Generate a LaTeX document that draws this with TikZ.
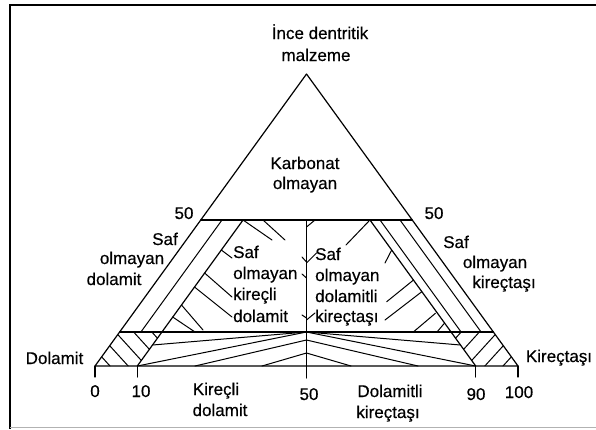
\documentclass[tikz,border=0pt]{standalone}
\usepackage{fontspec}
\setmainfont{Liberation Sans}[FakeBold=0.4]
\usepackage{tikz}
\usetikzlibrary{positioning}

\begin{document}
\begin{tikzpicture}[x=1pt, y=-1pt,
    edge/.style={line width=1.2pt, line cap=round, line join=round},
    hatch/.style={line width=1pt, line cap=round},
    lbl/.style={font=\fontsize{17}{21}\selectfont, inner sep=0pt, anchor=base}
]
\useasboundingbox (0,0) rectangle (596,429);
% frame
\draw[line width=1.4pt] (596,5) -- (10,5) -- (10,429);
\draw[gray!60, line width=0.8pt] (10,427) -- (596,427);

% corners and limits
\coordinate (dol) at (95,366);
\coordinate (kir) at (518,366);
\coordinate (apex) at (306.5,74);
\coordinate (l50) at (200.75,220);
\coordinate (r50) at (412.25,220);
\coordinate (lin) at (119.6,332);
\coordinate (rin) at (493.4,332);
\coordinate (t10) at (137.3,366);
\coordinate (t90) at (475.7,366);
\coordinate (b10in) at (161.9,332);
\coordinate (b10top) at (243.05,220);
\coordinate (b90in) at (451.1,332);
\coordinate (b90top) at (369.95,220);
\coordinate (mtop) at (306.5,220);
\coordinate (mid) at (306.5,332);
\coordinate (mbase) at (306.5,366);

% strips along the sides
\draw[hatch] (222,220) -- (140.9,332);
\draw[hatch] (380,220) -- (461.1,332);
\draw[hatch] (400,220) -- (481.1,332);

% Dolamit and Kirectasi corners
\begin{scope}
\clip (dol) -- (t10) -- (b10in) -- (lin) -- cycle;
\foreach \c in {245,225,205,185,165}
  \draw[hatch] (80,\c+88) -- (180,\c+198);
\end{scope}
\begin{scope}
\clip (kir) -- (t90) -- (b90in) -- (rin) -- cycle;
\foreach \c in {245,225,205,185,165}
  \draw[hatch] (533,\c+88) -- (433,\c+198);
\end{scope}

% fans in the lower band
\draw[hatch] (t10) -- (mid);
\draw[hatch] (152.5,345) -- (mid);
\draw[hatch] (195,366) -- (306.5,340);
\draw[hatch] (262,366) -- (306.5,353);
\draw[hatch] (t90) -- (mid);
\draw[hatch] (460.5,345) -- (mid);
\draw[hatch] (418,366) -- (306.5,340);
\draw[hatch] (351,366) -- (306.5,353);

% impure calcareous dolomite
\draw[hatch] (b10top) -- (272,240);
\draw[hatch] (263,220) -- (285,240);
\draw[hatch] (221.3,250) -- (232,258);
\draw[hatch] (204.6,273) -- (232,297);
\draw[hatch] (194.5,287) -- (232,317);
\draw[hatch] (181.5,305) -- (203,330);
\draw[hatch] (172.7,317) -- (195,332);
\draw[hatch] (302,257) -- (306.5,262);
\draw[hatch] (302,274) -- (306.5,278);
\draw[hatch] (302,315) -- (306.5,318);

% impure dolomitic limestone
\draw[hatch] (b90top) -- (346,245);
\draw[hatch] (306.5,227) -- (315,220);
\draw[hatch] (306.5,263) -- (316.5,253);
\draw[hatch] (391.7,250) -- (385,263);
\draw[hatch] (413.5,280) -- (386.7,301.7);
\draw[hatch] (421.8,291.7) -- (385,320);
\draw[hatch] (435.4,313.3) -- (413.3,332);
\draw[hatch] (444.6,323) -- (437,332);
\draw[hatch] (306.5,320) -- (315,313);

% main lines
\draw[edge] (dol) -- (apex) -- (kir) -- cycle;
\draw[edge] (l50) -- (r50);
\draw[edge] (lin) -- (rin);
\draw[edge] (t10) -- (b10top);
\draw[edge] (t90) -- (b90top);
\draw[edge] (mtop) -- (306.5,378);
\draw[edge] (dol) -- (95,377);
\draw[edge] (t10) -- (137.3,377);
\draw[edge] (t90) -- (475.7,377);
\draw[edge] (kir) -- (518,377);

% labels
\node[lbl] (ince) at (320,39) {İnce dentritik};
\node[lbl] (malz) at (316,61) {malzeme};
\node[lbl] (karb) at (305,169) {Karbonat};
\node[lbl] (karbb) at (305,189) {olmayan};
\node[lbl] (n50l) at (184,219) {50};
\node[lbl] (n50r) at (434,219) {50};

\node[lbl] (lsaf) at (165,245) {Saf};
\node[lbl] (lolm) at (132,264) {olmayan};
\node[lbl] (ldol) at (114,285) {dolamit};

\node[lbl] (rsaf) at (456,248) {Saf};
\node[lbl] (rolm) at (495,268) {olmayan};
\node[lbl] (rkir) at (504,288) {kireçtaşı};

\node[lbl, anchor=base west] (mlsaf) at (233,258) {Saf};
\node[lbl, anchor=base west] (mlolm) at (233,279) {olmayan};
\node[lbl, anchor=base west] (mlkir) at (233,300) {kireçli};
\node[lbl, anchor=base west] (mldol) at (233,322) {dolamit};

\node[lbl, anchor=base west] (mrsaf) at (315,260) {Saf};
\node[lbl, anchor=base west] (mrolm) at (315,281) {olmayan};
\node[lbl, anchor=base west] (mrdol) at (315,302) {dolamitli};
\node[lbl, anchor=base west] (mrkir) at (315,322) {kireçtaşı};

\node[lbl] (dolamit) at (54.5,364) {Dolamit};
\node[lbl] (kirectasi) at (559,362) {Kireçtaşı};

\node[lbl] (v0) at (95,397) {0};
\node[lbl] (v10) at (141,397) {10};
\node[lbl] (v50) at (309,400) {50};
\node[lbl] (v90) at (476,400) {90};
\node[lbl] (v100) at (519,398) {100};

\node[lbl] (kd1) at (216,395) {Kireçli};
\node[lbl] (kd2) at (220,416) {dolamit};
\node[lbl] (dk1) at (390,397) {Dolamitli};
\node[lbl] (dk2) at (388,418) {kireçtaşı};
\end{tikzpicture}
\end{document}
